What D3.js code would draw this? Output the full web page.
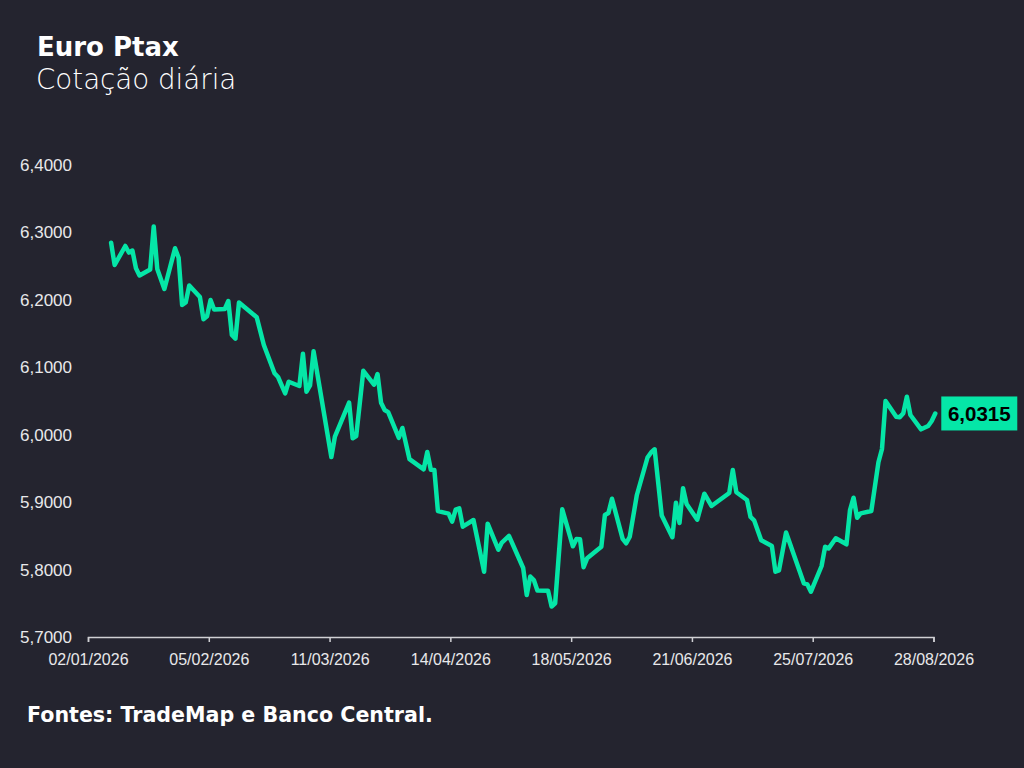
<!DOCTYPE html>
<html>
<head>
<meta charset="utf-8">
<script src="https://cdn.jsdelivr.net/npm/d3@7"></script>
<style>
  html, body { margin: 0; padding: 0; background: #24242f; }
  svg { display: block; }
</style>
</head>
<body>
<svg id="chart" width="1024" height="768"></svg>
<script>
// ---- data ----
const dates = ["08/01","09/01","12/01","13/01","14/01","15/01","16/01","19/01","20/01","21/01","23/01","26/01","27/01","28/01","29/01","30/01",
"02/02","03/02","04/02","05/02","06/02","09/02","10/02","11/02","12/02","13/02","18/02","20/02","23/02","24/02","26/02","27/02",
"02/03","03/03","04/03","05/03","06/03","11/03","12/03","16/03","17/03","18/03","20/03","23/03","24/03","25/03","26/03","27/03","30/03","31/03",
"02/04","06/04","07/04","08/04","09/04","10/04","13/04","14/04","15/04","16/04","17/04","20/04","23/04","24/04","27/04","28/04","30/04",
"04/05","05/05","06/05","07/05","08/05","11/05","12/05","13/05","15/05","18/05","19/05","20/05","21/05","22/05","26/05","27/05","28/05","29/05",
"01/06","02/06","03/06","05/06","08/06","09/06","10/06","12/06","15/06","16/06","17/06","18/06","19/06","22/06","24/06","26/06",
"01/07","02/07","03/07","06/07","07/07","08/07","10/07","13/07","14/07","15/07","17/07","22/07","23/07","24/07","27/07","28/07","29/07","31/07",
"03/08","04/08","05/08","06/08","07/08","10/08","12/08","13/08","14/08","17/08","18/08","19/08","20/08","21/08","24/08","26/08","27/08","28/08"];

const values = [6.2848,6.2517,6.2799,6.2702,6.2732,6.2468,6.2361,6.2450,6.3088,6.2458,6.2161,6.2765,6.2624,6.1924,6.1961,6.2213,
6.2042,6.1713,6.1756,6.1998,6.1857,6.1864,6.1983,6.1479,6.1424,6.1961,6.1741,6.1330,6.0911,6.0856,6.0614,6.0786,
6.0722,6.1201,6.0638,6.0730,6.1237,5.9669,5.9973,6.0475,5.9947,5.9981,6.0948,6.0742,6.0900,6.0475,6.0366,6.0334,5.9954,6.0100,
5.9637,5.9487,5.9744,5.9481,5.9477,5.8866,5.8829,5.8710,5.8888,5.8909,5.8636,5.8735,5.7968,5.8680,5.8295,5.8401,5.8498,
5.8023,5.7623,5.7897,5.7845,5.7690,5.7687,5.7452,5.7500,5.8894,5.8345,5.8453,5.8450,5.8034,5.8167,5.8339,5.8809,5.8839,5.9050,
5.8456,5.8390,5.8487,5.9106,5.9662,5.9736,5.9784,5.8802,5.8479,5.8992,5.8691,5.9205,5.8972,5.8740,5.9125,5.8943,
5.9136,5.9477,5.9147,5.9032,5.8780,5.8731,5.8434,5.8350,5.7968,5.7989,5.8550,5.7796,5.7779,5.7672,5.8053,5.8339,5.8315,5.8464,
5.8375,5.8883,5.9066,5.8769,5.8834,5.8869,5.9591,5.9788,6.0500,6.0267,6.0258,6.0318,6.0564,6.0292,6.0080,6.0129,6.0203,6.0315];

const year = 2026;
const xTickLabels = ["02/01/2026","05/02/2026","11/03/2026","14/04/2026","18/05/2026","21/06/2026","25/07/2026","28/08/2026"];
const yTickValues = [5.7, 5.8, 5.9, 6.0, 6.1, 6.2, 6.3, 6.4];
const title = "Euro Ptax";
const subtitle = "Cotação diária";
const source = "Fontes: TradeMap e Banco Central.";

// ---- drawing ----
const W = 1024, H = 768;
const LINE = "#05e6a7";
const parse = d3.timeParse("%d/%m/%Y");
const data = dates.map((d, i) => ({ date: d3.timeHour.offset(parse(d + "/" + year), 12), value: values[i] }));
const xTicks = xTickLabels.map(parse);

const svg = d3.select("#chart");
svg.append("rect").attr("width", W).attr("height", H).attr("fill", "#24242f");

const x = d3.scaleTime().domain([xTicks[0], xTicks[xTicks.length - 1]]).range([88, 933.5]);
const y = d3.scaleLinear().domain([5.7, 6.4]).range([637, 165]);

const fmtY = v => v.toFixed(4).replace(".", ",");

// y axis labels (no line)
const yAxis = d3.axisLeft(y).tickValues(yTickValues).tickFormat(fmtY).tickSize(0).tickPadding(0);
const gy = svg.append("g").attr("transform", "translate(72,0)").call(yAxis);
gy.select(".domain").remove();
gy.selectAll("text").attr("fill", "#e8e8ea").style("font-family", "'Liberation Sans', Arial, sans-serif").style("font-size", "17px");

// x axis
const xAxis = d3.axisBottom(x).tickValues(xTicks).tickFormat(d3.timeFormat("%d/%m/%Y")).tickSize(5).tickPadding(12);
const gx = svg.append("g").attr("transform", "translate(0,637)").call(xAxis);
gx.select(".domain").attr("stroke", "#d0d0d4").attr("stroke-width", 1.5);
gx.selectAll(".tick line").attr("stroke", "#d0d0d4").attr("stroke-width", 1.5);
gx.selectAll("text").attr("fill", "#e8e8ea").style("font-family", "'Liberation Sans', Arial, sans-serif").style("font-size", "16px");

// line
const line = d3.line().x(d => x(d.date)).y(d => y(d.value));
svg.append("path").datum(data)
  .attr("d", line)
  .attr("fill", "none")
  .attr("stroke", LINE)
  .attr("stroke-width", 4.5)
  .attr("stroke-linejoin", "round")
  .attr("stroke-linecap", "round");

// last value label
const last = data[data.length - 1];
const lx = x(last.date) + 6, ly = y(last.value);
svg.append("rect").attr("x", lx).attr("y", ly - 17).attr("width", 76).attr("height", 34).attr("fill", LINE);
svg.append("text").attr("x", lx + 38).attr("y", ly + 7.5)
  .attr("text-anchor", "middle")
  .style("font-family", "'Liberation Sans', Arial, sans-serif").style("font-weight", "bold").style("font-size", "20.5px")
  .attr("fill", "#000").text(fmtY(last.value));

// titles
svg.append("text").attr("x", 37).attr("y", 56).text(title)
  .style("font-family", "'DejaVu Sans', sans-serif").style("font-weight", "bold").style("font-size", "26px").attr("fill", "#ffffff");
svg.append("text").attr("x", 36).attr("y", 89).text(subtitle)
  .style("font-family", "'DejaVu Sans', sans-serif").style("font-weight", "300").style("font-size", "27.7px").attr("fill", "#ffffff");
svg.append("text").attr("x", 27).attr("y", 722).text(source)
  .style("font-family", "'DejaVu Sans', sans-serif").style("font-weight", "bold").style("font-size", "20.6px").attr("fill", "#ffffff");
</script>
</body>
</html>
